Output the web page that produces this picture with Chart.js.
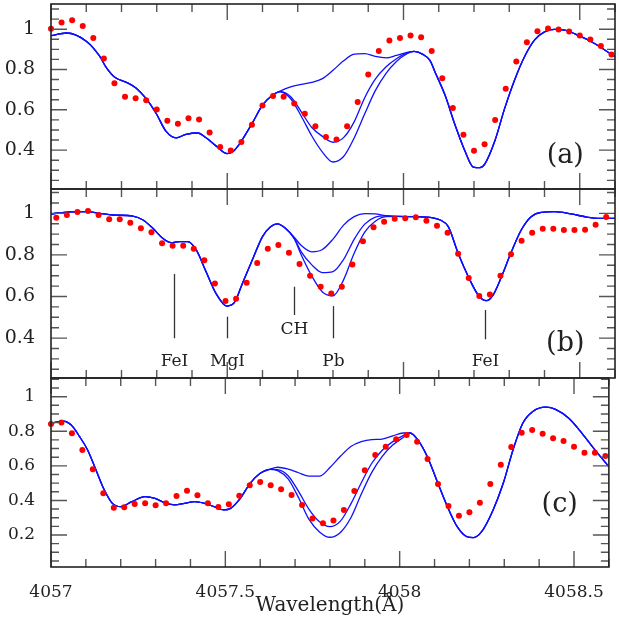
<!DOCTYPE html>
<html>
<head>
<meta charset="utf-8">
<script src="https://cdn.jsdelivr.net/npm/chart.js@4.4.0/dist/chart.umd.min.js"></script>
<style>
  html, body { margin: 0; padding: 0; background: #fff; }
  #wrap { position: relative; width: 619px; height: 629px; overflow: hidden; }
  #wrap canvas { position: absolute; left: 0; top: 0; }
</style>
</head>
<body>
<div id="wrap">
  <canvas id="panelA" width="619" height="629"></canvas>
  <canvas id="panelB" width="619" height="629"></canvas>
  <canvas id="panelC" width="619" height="629"></canvas>
</div>
<script>
// observed spectrum (red dots)
const obsWaveAC = [4057.00, 4057.03, 4057.06, 4057.09, 4057.12, 4057.15, 4057.18, 4057.21, 4057.24, 4057.27,
  4057.30, 4057.33, 4057.36, 4057.39, 4057.42, 4057.45, 4057.48, 4057.51, 4057.54, 4057.57,
  4057.60, 4057.63, 4057.66, 4057.69, 4057.72, 4057.75, 4057.78, 4057.81, 4057.84, 4057.87,
  4057.90, 4057.93, 4057.96, 4057.99, 4058.02, 4058.05, 4058.08, 4058.11, 4058.14, 4058.17,
  4058.20, 4058.23, 4058.26, 4058.29, 4058.32, 4058.35, 4058.38, 4058.41, 4058.44, 4058.47,
  4058.50, 4058.53, 4058.56, 4058.59];
const obsWaveB = [4057.015, 4057.045, 4057.075, 4057.105, 4057.135, 4057.165, 4057.195, 4057.225, 4057.255, 4057.285,
  4057.315, 4057.345, 4057.375, 4057.405, 4057.435, 4057.465, 4057.495, 4057.525, 4057.555, 4057.585,
  4057.615, 4057.645, 4057.675, 4057.705, 4057.735, 4057.765, 4057.795, 4057.825, 4057.855, 4057.885,
  4057.915, 4057.945, 4057.975, 4058.005, 4058.035, 4058.065, 4058.095, 4058.125, 4058.155, 4058.185,
  4058.215, 4058.245, 4058.275, 4058.305, 4058.335, 4058.365, 4058.395, 4058.425, 4058.455, 4058.485,
  4058.515, 4058.545, 4058.575];
const obsFluxA = [1.002, 1.033, 1.044, 1.016, 0.956, 0.854, 0.732, 0.665, 0.657, 0.648,
  0.602, 0.546, 0.531, 0.558, 0.552, 0.487, 0.416, 0.398, 0.440, 0.526,
  0.621, 0.668, 0.665, 0.631, 0.580, 0.518, 0.465, 0.453, 0.518, 0.639,
  0.775, 0.892, 0.944, 0.956, 0.969, 0.960, 0.892, 0.756, 0.609, 0.476,
  0.397, 0.429, 0.549, 0.704, 0.840, 0.935, 0.990, 1.003, 0.999, 0.989,
  0.969, 0.949, 0.916, 0.874];
const obsFluxB = [0.979, 0.992, 1.006, 1.011, 0.992, 0.971, 0.971, 0.955, 0.928, 0.909,
  0.856, 0.844, 0.844, 0.830, 0.774, 0.662, 0.578, 0.589, 0.666, 0.761,
  0.830, 0.848, 0.810, 0.756, 0.700, 0.647, 0.615, 0.647, 0.754, 0.866,
  0.933, 0.960, 0.974, 0.976, 0.981, 0.964, 0.940, 0.907, 0.806, 0.689,
  0.602, 0.609, 0.700, 0.803, 0.868, 0.907, 0.926, 0.926, 0.920, 0.920,
  0.921, 0.945, 0.982];
const obsFluxC = [0.842, 0.850, 0.788, 0.692, 0.580, 0.441, 0.358, 0.360, 0.379, 0.383,
  0.372, 0.383, 0.426, 0.456, 0.430, 0.383, 0.362, 0.378, 0.427, 0.488,
  0.507, 0.488, 0.464, 0.431, 0.374, 0.296, 0.268, 0.284, 0.345, 0.455,
  0.574, 0.663, 0.711, 0.754, 0.778, 0.739, 0.640, 0.495, 0.368, 0.312,
  0.331, 0.387, 0.495, 0.607, 0.709, 0.792, 0.807, 0.786, 0.759, 0.744,
  0.711, 0.676, 0.676, 0.657];

// synthetic spectra (blue): common part, three Pb abundances, common part
const synWaveA_left = [4057.000, 4057.044, 4057.101, 4057.138, 4057.157, 4057.181, 4057.214, 4057.242, 4057.270, 4057.298,
  4057.326, 4057.355, 4057.383, 4057.416, 4057.440, 4057.468, 4057.499, 4057.515, 4057.534, 4057.571, 4057.600, 4057.628];
const synFluxA_left = [0.968, 0.981, 0.939, 0.866, 0.809, 0.761, 0.736, 0.707, 0.655, 0.583,
  0.494, 0.461, 0.478, 0.485, 0.461, 0.421, 0.383, 0.392, 0.429, 0.534, 0.623, 0.672];
const pbWaveA = [4057.65, 4057.68, 4057.71, 4057.74, 4057.77, 4057.80, 4057.83, 4057.86, 4057.89, 4057.92, 4057.95, 4057.98, 4058.01, 4058.03];
const pbWeakA = [0.693, 0.714, 0.726, 0.736, 0.755, 0.796, 0.843, 0.876, 0.879, 0.865, 0.858, 0.870, 0.885, 0.890];
const pbMidA = [0.690, 0.665, 0.590, 0.512, 0.468, 0.439, 0.462, 0.540, 0.660, 0.752, 0.812, 0.853, 0.882, 0.890];
const pbStrongA = [0.689, 0.655, 0.568, 0.470, 0.390, 0.341, 0.368, 0.460, 0.580, 0.695, 0.780, 0.840, 0.878, 0.890];
const synWaveA_right = [4058.055, 4058.075, 4058.090, 4058.118, 4058.146, 4058.174, 4058.198, 4058.217, 4058.231, 4058.259,
  4058.287, 4058.316, 4058.344, 4058.372, 4058.400, 4058.429, 4058.457, 4058.494, 4058.532, 4058.570, 4058.600];
const synFluxA_right = [0.875, 0.845, 0.785, 0.672, 0.526, 0.397, 0.316, 0.313, 0.332, 0.445,
  0.607, 0.752, 0.866, 0.947, 0.987, 0.999, 0.995, 0.971, 0.939, 0.898, 0.863];

const synWaveB_left = [4057.000, 4057.044, 4057.101, 4057.138, 4057.176, 4057.232, 4057.261, 4057.289, 4057.317, 4057.341,
  4057.364, 4057.388, 4057.412, 4057.440, 4057.468, 4057.499, 4057.520, 4057.543, 4057.571, 4057.600, 4057.623, 4057.642];
const synFluxB_left = [0.997, 1.006, 1.008, 1.000, 0.992, 0.987, 0.968, 0.928, 0.880, 0.859,
  0.864, 0.864, 0.824, 0.719, 0.615, 0.554, 0.570, 0.663, 0.775, 0.888, 0.936, 0.949];
const pbWaveB = [4057.665, 4057.69, 4057.71, 4057.74, 4057.77, 4057.80, 4057.83, 4057.86, 4057.89, 4057.92, 4057.95, 4057.98];
const pbWeakB = [0.928, 0.885, 0.845, 0.815, 0.826, 0.876, 0.943, 0.984, 0.999, 0.997, 0.989, 0.985];
const pbMidB = [0.928, 0.880, 0.815, 0.752, 0.715, 0.720, 0.778, 0.875, 0.948, 0.982, 0.988, 0.985];
const pbStrongB = [0.928, 0.878, 0.800, 0.698, 0.622, 0.603, 0.680, 0.808, 0.910, 0.962, 0.984, 0.985];
const synWaveB_right = [4058.033, 4058.080, 4058.104, 4058.127, 4058.155, 4058.184, 4058.212, 4058.235, 4058.254, 4058.278,
  4058.306, 4058.334, 4058.362, 4058.391, 4058.429, 4058.475, 4058.523, 4058.551, 4058.600];
const synFluxB_right = [0.984, 0.979, 0.968, 0.936, 0.808, 0.695, 0.607, 0.580, 0.607, 0.695,
  0.815, 0.920, 0.984, 1.005, 1.008, 0.997, 0.981, 0.976, 0.976];

const synWaveC_left = [4057.000, 4057.035, 4057.058, 4057.082, 4057.105, 4057.129, 4057.153, 4057.176, 4057.200, 4057.232,
  4057.270, 4057.298, 4057.326, 4057.355, 4057.383, 4057.412, 4057.440, 4057.468, 4057.496, 4057.515,
  4057.543, 4057.571, 4057.600, 4057.628];
const synFluxC_left = [0.846, 0.859, 0.836, 0.769, 0.692, 0.576, 0.460, 0.383, 0.364, 0.393,
  0.422, 0.412, 0.387, 0.374, 0.383, 0.393, 0.383, 0.364, 0.345, 0.354,
  0.412, 0.499, 0.557, 0.580];
const pbWaveC = [4057.65, 4057.68, 4057.71, 4057.74, 4057.77, 4057.80, 4057.83, 4057.86, 4057.89, 4057.92, 4057.95, 4057.98, 4058.01, 4058.03];
const pbWeakC = [0.592, 0.581, 0.560, 0.540, 0.540, 0.590, 0.655, 0.712, 0.740, 0.752, 0.755, 0.773, 0.790, 0.790];
const pbMidC = [0.578, 0.543, 0.452, 0.348, 0.276, 0.248, 0.280, 0.380, 0.502, 0.615, 0.690, 0.740, 0.775, 0.790];
const pbStrongC = [0.572, 0.525, 0.416, 0.290, 0.218, 0.187, 0.215, 0.300, 0.437, 0.562, 0.655, 0.720, 0.764, 0.790];
const synWaveC_right = [4058.052, 4058.080, 4058.108, 4058.137, 4058.165, 4058.193, 4058.212, 4058.235, 4058.268, 4058.297,
  4058.325, 4058.353, 4058.381, 4058.419, 4058.447, 4058.485, 4058.523, 4058.560, 4058.600];
const synFluxC_right = [0.750, 0.650, 0.508, 0.364, 0.248, 0.190, 0.185, 0.219, 0.345, 0.499,
  0.692, 0.846, 0.913, 0.939, 0.927, 0.875, 0.788, 0.692, 0.595];

// line identifications in panel (b)
const lineNames = ['FeI', 'MgI', 'CH', 'Pb', 'FeI'];
const lineWaves = [4057.35, 4057.50, 4057.69, 4057.80, 4058.23];
const xTickLabels = [4057, 4057.5, 4058, 4058.5];

// marker geometry in panel (b) data units (top, bottom, label baseline)
const markGeom = [
  [0.708, 0.399, 0.268],
  [0.503, 0.399, 0.268],
  [0.647, 0.511, 0.420],
  [0.554, 0.399, 0.268],
  [0.535, 0.394, 0.268]
];

const FONT = "'DejaVu Serif', serif";
const INK = '#222';
const W = 619, H = 629;

function pts(xs, ys) { return xs.map((x, i) => ({ x: x, y: ys[i] })); }

// frame and inward tick marks on all four sides
const frameTicks = {
  id: 'frameTicks',
  afterDatasetsDraw(chart) {
    const { ctx, chartArea: a, scales: { x, y } } = chart;
    ctx.save();
    ctx.strokeStyle = '#555';
    ctx.lineWidth = 1.4;
    ctx.beginPath();
    for (let i = 0; i <= 16; i++) {
      const px = x.getPixelForValue(4057 + i * 0.1);
      const len = (i % 5 === 0) ? 16 : 8;
      ctx.moveTo(px, a.top); ctx.lineTo(px, a.top + len);
      ctx.moveTo(px, a.bottom); ctx.lineTo(px, a.bottom - len);
    }
    for (let k = 0; k <= 24; k++) {
      const v = k * 0.05;
      if (v < y.min || v > y.max) continue;
      const py = y.getPixelForValue(v);
      const len = (k % 4 === 0) ? 16 : 8;
      ctx.moveTo(a.left, py); ctx.lineTo(a.left + len, py);
      ctx.moveTo(a.right, py); ctx.lineTo(a.right - len, py);
    }
    ctx.stroke();
    ctx.strokeStyle = '#222';
    ctx.lineWidth = 1.6;
    const top = a.top < 1 ? 0.8 : a.top;
    ctx.strokeRect(a.left, top, a.right - a.left, a.bottom - top);
    ctx.restore();
  }
};

// panel letter and line identifications
const panelNotes = {
  id: 'panelNotes',
  afterDatasetsDraw(chart, args, opts) {
    const { ctx, scales: { x, y } } = chart;
    ctx.save();
    ctx.fillStyle = INK;
    ctx.font = '27px ' + FONT;
    ctx.textAlign = 'center';
    ctx.textBaseline = 'middle';
    ctx.fillText(opts.letter, x.getPixelForValue(4058.459), y.getPixelForValue(opts.letterY));
    if (opts.marks) {
      ctx.strokeStyle = '#333';
      ctx.lineWidth = 1.3;
      ctx.font = '17px ' + FONT;
      ctx.textBaseline = 'alphabetic';
      lineNames.forEach((name, i) => {
        const px = Math.round(x.getPixelForValue(lineWaves[i])) + 0.5;
        const g = markGeom[i];
        ctx.beginPath();
        ctx.moveTo(px, y.getPixelForValue(g[0]));
        ctx.lineTo(px, y.getPixelForValue(g[1]));
        ctx.stroke();
        ctx.fillText(name, px, y.getPixelForValue(g[2]));
      });
    }
    ctx.restore();
  }
};

function makePanel(id, cfg) {
  const curves = cfg.pb.map(pf => ({
    data: pts(cfg.lw.concat(cfg.pw, cfg.rw), cfg.lf.concat(pf, cfg.rf)),
    showLine: true,
    borderColor: '#1010ff',
    borderWidth: 1.3,
    pointRadius: 0,
    cubicInterpolationMode: 'monotone',
    fill: false
  }));
  const dots = {
    data: pts(cfg.obsW, cfg.obsF),
    showLine: false,
    pointRadius: 3,
    pointBackgroundColor: '#ff0000',
    pointBorderWidth: 0,
    clip: false
  };
  const xScale = {
    type: 'linear',
    min: 4057, max: 4058.6,
    display: cfg.showX,
    grid: { display: false, drawTicks: false },
    border: { display: false }
  };
  if (cfg.showX) {
    xScale.afterFit = s => { s.height = H - 567; };
    xScale.afterBuildTicks = s => { s.ticks = xTickLabels.map(v => ({ value: v })); };
    xScale.ticks = {
      autoSkip: false, maxRotation: 0, padding: 15,
      color: INK, font: { family: FONT, size: 17 },
      callback: v => String(v)
    };
    xScale.title = {
      display: true, text: 'Wavelength(Å)', color: INK,
      font: { family: FONT, size: 20 },
      padding: { top: 0, bottom: 11 }
    };
  }
  return new Chart(document.getElementById(id), {
    type: 'scatter',
    data: { datasets: [dots].concat(curves) },
    options: {
      responsive: false,
      animation: false,
      events: [],
      layout: { padding: { top: cfg.top, bottom: cfg.bottom, left: 0, right: 2 } },
      plugins: {
        legend: { display: false },
        tooltip: { enabled: false },
        panelNotes: { letter: cfg.letter, letterY: cfg.letterY, marks: cfg.marks }
      },
      scales: {
        x: xScale,
        y: {
          type: 'linear',
          min: cfg.ymin, max: cfg.ymax,
          afterFit: s => { s.width = 51; s.paddingTop = 0; s.paddingBottom = 0; },
          grid: { display: false, drawTicks: false },
          border: { display: false },
          ticks: {
            stepSize: 0.2, includeBounds: false, autoSkip: false, padding: 16,
            color: INK, font: { family: FONT, size: cfg.yFont },
            callback: v => String(+v.toFixed(2))
          }
        }
      }
    },
    plugins: [frameTicks, panelNotes]
  });
}

makePanel('panelA', {
  top: 0, bottom: H - 189, ymin: 0.207, ymax: 1.125, showX: false, yFont: 19,
  obsW: obsWaveAC, obsF: obsFluxA,
  lw: synWaveA_left, lf: synFluxA_left, pw: pbWaveA, pb: [pbWeakA, pbMidA, pbStrongA],
  rw: synWaveA_right, rf: synFluxA_right,
  letter: '(a)', letterY: 0.372, marks: false
});
makePanel('panelB', {
  top: 189, bottom: H - 378, ymin: 0.208, ymax: 1.117, showX: false, yFont: 19,
  obsW: obsWaveB, obsF: obsFluxB,
  lw: synWaveB_left, lf: synFluxB_left, pw: pbWaveB, pb: [pbWeakB, pbMidB, pbStrongB],
  rw: synWaveB_right, rf: synFluxB_right,
  letter: '(b)', letterY: 0.372, marks: true
});
makePanel('panelC', {
  top: 378, bottom: 0, ymin: 0.015, ymax: 1.108, showX: true, yFont: 17,
  obsW: obsWaveAC, obsF: obsFluxC,
  lw: synWaveC_left, lf: synFluxC_left, pw: pbWaveC, pb: [pbWeakC, pbMidC, pbStrongC],
  rw: synWaveC_right, rf: synFluxC_right,
  letter: '(c)', letterY: 0.374, marks: false
});
</script>
</body>
</html>
